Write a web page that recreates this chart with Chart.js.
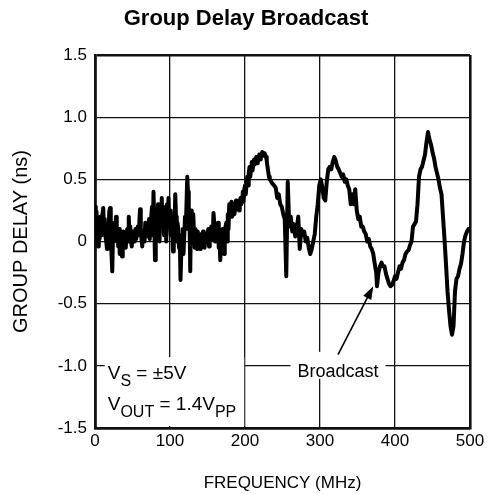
<!DOCTYPE html>
<html>
<head>
<meta charset="utf-8">
<script src="https://cdn.jsdelivr.net/npm/chart.js@4"></script>
<style>
  html, body { margin: 0; padding: 0; background: #fff; }
  #wrap { width: 492px; height: 494px; }
</style>
</head>
<body>
<div id="wrap"><canvas id="delayChart" width="492" height="494"></canvas></div>
<script>
// values (frequency in MHz, group delay in ns)
const freqMHz = [
  0, 1, 2, 3, 4, 5, 6, 7, 8, 9,
  10, 11, 12, 13, 14, 15, 16, 17, 18, 19,
  20, 21, 22, 23, 24, 25, 26, 27, 28, 29,
  30, 31, 32, 33, 34, 35, 36, 37, 38, 39,
  40, 41, 42, 43, 44, 45, 46, 47, 48, 49,
  50, 51, 52, 53, 54, 55, 56, 57, 58, 59,
  60, 61, 62, 63, 64, 65, 66, 67, 68, 69,
  70, 71, 72, 73, 74, 75, 76, 77, 78, 79,
  80, 81, 82, 83, 84, 85, 86, 87, 88, 89,
  90, 91, 92, 93, 94, 95, 96, 97, 98, 99,
  100, 101, 102, 103, 104, 105, 106, 107, 108, 109,
  110, 111, 112, 113, 114, 115, 116, 117, 118, 119,
  120, 121, 122, 123, 124, 125, 126, 127, 128, 129,
  130, 131, 132, 133, 134, 135, 136, 137, 138, 139,
  140, 141, 142, 143, 144, 145, 146, 147, 148, 149,
  150, 151, 152, 153, 154, 155, 156, 157, 158, 159,
  160, 161, 162, 163, 164, 165, 166, 167, 168, 169,
  170, 171, 172, 173, 174, 175, 176, 177, 178, 179,
  180, 181, 182, 183, 184, 185, 186, 187, 188, 189,
  190, 191, 192, 193, 194, 195, 196, 197, 198, 199,
  200, 201, 202, 203, 204, 205, 206, 207, 208, 209,
  210, 211, 212, 213, 214, 215, 216, 217, 218, 219,
  220, 221, 222, 223, 224, 225, 226, 227, 228, 229,
  230, 231, 232, 233, 236, 239, 241, 243, 245, 247, 249, 251, 253, 255, 257, 259, 261, 263, 265, 267, 269,
  271, 273, 275, 277, 279, 281, 283, 285, 287, 289, 291, 293, 295, 297, 299, 301, 303, 305, 307,
  309, 311, 313, 315, 317, 319, 321, 323, 325, 327, 329, 331, 333, 335, 337, 339, 341, 343, 345,
  347, 349, 351, 353, 355, 357, 359, 361, 363, 365, 367, 369, 371, 373, 375, 376, 378, 380, 382,
  384, 386, 388, 390, 392, 394, 396, 398, 400, 402, 404, 406, 408, 410, 412, 414, 416, 418, 420,
  422, 424, 426, 428, 430, 432, 434, 436, 438, 440, 442, 444, 446, 448, 450, 452, 454, 456, 458,
  460, 462, 464, 466, 468, 470, 472, 474, 476, 478, 480, 482, 484, 486, 488, 490, 492, 494, 496,
  498, 500
];
const delayNs = [
  0.28, 0.10, 0.24, 0.05, -0.04, 0.12, 0.02, 0.20, 0.05, 0.15,
  0.22, 0.27, 0.08, 0.18, 0.04, 0.00, -0.06, 0.10, 0.02, 0.24,
  0.27, 0.10, -0.10, -0.24, 0.05, 0.15, 0.02, 0.10, 0.20, 0.00,
  0.08, -0.04, 0.10, -0.10, 0.05, 0.00, -0.12, 0.00, 0.08, -0.02,
  0.04, -0.05, 0.06, 0.10, 0.00, 0.20, 0.05, 0.12, 0.00, -0.04,
  0.08, 0.02, 0.00, 0.06, 0.10, 0.02, 0.08, 0.12, 0.05, 0.14,
  0.26, 0.10, 0.02, -0.04, 0.08, 0.02, 0.00, 0.15, 0.04, 0.05,
  0.10, 0.07, 0.18, 0.02, 0.12, 0.20, 0.28, 0.05, 0.40, 0.15,
  -0.15, 0.05, 0.12, 0.10, 0.30, 0.10, 0.00, 0.25, 0.12, 0.35,
  0.15, 0.28, 0.05, 0.15, 0.22, 0.00, 0.30, 0.15, 0.35, 0.12,
  0.25, 0.05, 0.18, 0.10, -0.08, 0.20, 0.08, 0.38, 0.20, 0.00,
  0.15, 0.10, -0.05, 0.05, -0.31, -0.10, 0.00, 0.10, -0.10, 0.05,
  0.20, 0.10, 0.30, 0.52, 0.40, 0.10, 0.20, -0.24, 0.25, 0.20,
  0.05, 0.22, 0.08, -0.05, 0.10, 0.02, -0.06, 0.08, 0.02, 0.00,
  -0.06, 0.04, 0.06, 0.00, 0.08, 0.04, -0.05, 0.02, 0.06, 0.00,
  0.05, 0.10, -0.04, 0.04, 0.05, 0.12, 0.02, 0.05, 0.23, 0.15,
  0.00, 0.08, 0.10, 0.05, 0.15, -0.05, 0.04, -0.15, 0.00, 0.06,
  0.10, 0.02, -0.10, 0.05, 0.12, 0.15, 0.00, 0.22, 0.10, 0.30,
  0.20, 0.26, 0.32, 0.20, 0.28, 0.30, 0.22, 0.28, 0.33, 0.26,
  0.32, 0.30, 0.25, 0.30, 0.35, 0.30, 0.36, 0.40, 0.32, 0.42,
  0.45, 0.38, 0.46, 0.52, 0.45, 0.55, 0.60, 0.52, 0.58, 0.64,
  0.57, 0.62, 0.66, 0.62, 0.66, 0.68, 0.63, 0.64, 0.68, 0.70,
  0.66, 0.67, 0.70, 0.72, 0.70, 0.69, 0.71, 0.70, 0.68, 0.65,
  0.60, 0.56, 0.52, 0.50, 0.47, 0.45, 0.43, 0.35, 0.38, 0.30, 0.28, 0.22, 0.18, -0.28, 0.48, 0.12, 0.20, 0.08, 0.14, 0.04, 0.10,
  0.20, -0.06, 0.10, 0.05, 0.08, 0.00, 0.03, -0.05, -0.10, -0.06, 0.00, 0.06, 0.20, 0.30, 0.45, 0.50, 0.44, 0.35, 0.33,
  0.48, 0.58, 0.60, 0.58, 0.64, 0.68, 0.65, 0.60, 0.58, 0.55, 0.52, 0.54, 0.48, 0.50, 0.45, 0.42, 0.30, 0.38, 0.30,
  0.42, 0.25, 0.18, 0.20, 0.12, 0.12, 0.08, 0.06, 0.00, 0.02, -0.04, -0.06, -0.10, -0.18, -0.25, -0.36, -0.25, -0.20, -0.17,
  -0.20, -0.20, -0.26, -0.30, -0.34, -0.36, -0.35, -0.32, -0.28, -0.30, -0.25, -0.20, -0.22, -0.17, -0.15, -0.10, -0.08, -0.07, -0.03,
  0.00, 0.12, 0.14, 0.16, 0.30, 0.52, 0.58, 0.60, 0.65, 0.70, 0.80, 0.88, 0.82, 0.78, 0.72, 0.67, 0.60, 0.55, 0.50,
  0.43, 0.38, 0.20, 0.02, -0.18, -0.40, -0.55, -0.68, -0.75, -0.68, -0.40, -0.30, -0.28, -0.22, -0.18, -0.10, 0.00, 0.05, 0.08,
  0.10, 0.10
];

const xTickValues = [0, 100, 200, 300, 400, 500];
const yTickValues = [-1.5, -1.0, -0.5, 0, 0.5, 1.0, 1.5];
const yTickLabels = ['-1.5', '-1.0', '-0.5', '0', '0.5', '1.0', '1.5'];
const chartTitle = 'Group Delay Broadcast';

const FONT = '"Liberation Sans", Arial, Helvetica, sans-serif';

// title, note boxes and arrow (note positions given in data units)
const notesPlugin = {
  id: 'notes',
  afterDatasetsDraw(chart) {
    const { ctx, scales: { x, y } } = chart;
    ctx.save();

    ctx.fillStyle = '#000';
    ctx.font = 'bold 22px ' + FONT;
    ctx.textAlign = 'center';
    ctx.textBaseline = 'middle';
    ctx.fillText(chartTitle, chart.width / 2, 19);

    // supply conditions box (lower left)
    const bx1 = x.getPixelForValue(13), bx2 = x.getPixelForValue(199);
    const by1 = y.getPixelForValue(-0.93), by2 = y.getPixelForValue(-1.485);
    ctx.fillStyle = '#fff';
    ctx.fillRect(bx1, by1, bx2 - bx1, by2 - by1);

    ctx.fillStyle = '#000';
    ctx.textBaseline = 'alphabetic';
    ctx.textAlign = 'left';
    const big = '19px ' + FONT, small = '16px ' + FONT;
    function run(parts, x0, base) {
      let cx = x0;
      parts.forEach(([txt, sub]) => {
        ctx.font = sub ? small : big;
        ctx.fillText(txt, cx, base + (sub ? 7 : 0));
        cx += ctx.measureText(txt).width;
      });
    }
    run([['V', 0], ['S', 1], [' = \u00b15V', 0]], bx1 + 3, 379);
    run([['V', 0], ['OUT', 1], [' = 1.4V', 0], ['PP', 1]], bx1 + 3, 410);

    // "Broadcast" label with arrow to the trace
    const lx = x.getPixelForValue(324), ly = y.getPixelForValue(-1.0);
    ctx.font = '18px ' + FONT;
    const w = ctx.measureText('Broadcast').width;
    ctx.fillStyle = '#fff';
    ctx.fillRect(lx - w / 2 - 7, ly - 14, w + 14, 27);
    ctx.fillStyle = '#000';
    ctx.textAlign = 'center';
    ctx.fillText('Broadcast', lx, ly + 11);

    const ax1 = x.getPixelForValue(324), ay1 = y.getPixelForValue(-0.91);
    const ax2 = x.getPixelForValue(371), ay2 = y.getPixelForValue(-0.36);
    const ang = Math.atan2(ay2 - ay1, ax2 - ax1);
    ctx.strokeStyle = '#000';
    ctx.lineWidth = 1.6;
    ctx.beginPath();
    ctx.moveTo(ax1, ay1);
    ctx.lineTo(ax2 - 10 * Math.cos(ang), ay2 - 10 * Math.sin(ang));
    ctx.stroke();
    ctx.beginPath();
    ctx.moveTo(ax2, ay2);
    ctx.lineTo(ax2 - 13 * Math.cos(ang) + 4.5 * Math.sin(ang), ay2 - 13 * Math.sin(ang) - 4.5 * Math.cos(ang));
    ctx.lineTo(ax2 - 13 * Math.cos(ang) - 4.5 * Math.sin(ang), ay2 - 13 * Math.sin(ang) + 4.5 * Math.cos(ang));
    ctx.closePath();
    ctx.fill();

    ctx.restore();
  }
};

const points = freqMHz.map((f, i) => ({ x: f, y: delayNs[i] }));

const gridWidth = (c, lo, hi) => (c.tick && (c.tick.value === lo || c.tick.value === hi)) ? 2.6 : 1.3;

new Chart(document.getElementById('delayChart').getContext('2d'), {
  type: 'line',
  data: {
    datasets: [{
      label: 'Broadcast',
      data: points,
      borderColor: '#000',
      borderWidth: 4,
      pointRadius: 0,
      tension: 0,
      fill: false,
      borderJoinStyle: 'round',
      borderCapStyle: 'round'
    }]
  },
  options: {
    responsive: false,
    animation: false,
    layout: { padding: { top: 55, left: 0, right: 22, bottom: 0 } },
    plugins: {
      legend: { display: false },
      tooltip: { enabled: false },
      title: { display: false }
    },
    scales: {
      x: {
        type: 'linear',
        min: 0,
        max: 500,
        afterBuildTicks: s => { s.ticks = xTickValues.map(v => ({ value: v })); },
        afterFit: s => { s.height = 66; },
        ticks: { color: '#000', font: { family: FONT, size: 17 }, padding: 3, maxRotation: 0 },
        grid: { color: '#111', lineWidth: c => gridWidth(c, 0, 500), drawTicks: false },
        border: { color: '#111', width: 2.6 },
        title: {
          display: true,
          text: 'FREQUENCY (MHz)',
          color: '#000',
          font: { family: FONT, size: 17 },
          padding: { top: 0, bottom: 0 }
        }
      },
      y: {
        type: 'linear',
        min: -1.5,
        max: 1.5,
        afterBuildTicks: s => { s.ticks = yTickValues.map(v => ({ value: v })); },
        afterFit: s => { s.width = 95; },
        ticks: {
          color: '#000',
          font: { family: FONT, size: 17 },
          padding: 8,
          callback: v => yTickLabels[yTickValues.indexOf(v)]
        },
        grid: { color: '#111', lineWidth: c => gridWidth(c, -1.5, 1.5), drawTicks: false },
        border: { color: '#111', width: 2.6 },
        title: {
          display: true,
          text: 'GROUP DELAY (ns)',
          color: '#000',
          font: { family: FONT, size: 20 },
          padding: { top: 9, bottom: 0 }
        }
      }
    }
  },
  plugins: [notesPlugin]
});
</script>
</body>
</html>
